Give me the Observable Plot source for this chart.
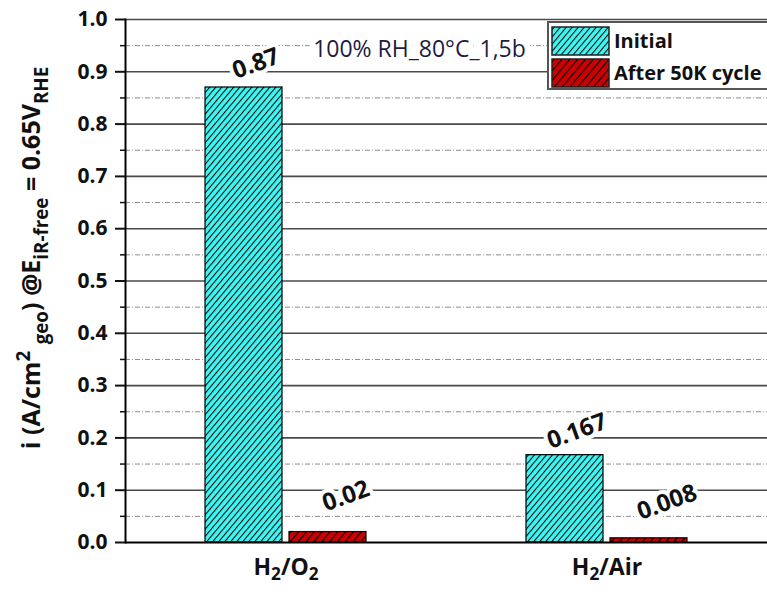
<!DOCTYPE html>
<html><head><meta charset="utf-8">
<script src="https://cdn.jsdelivr.net/npm/d3@7"></script>
<script src="https://cdn.jsdelivr.net/npm/@observablehq/plot@0.6"></script>
<style>body{margin:0;background:#fff} #chart{width:767px;height:592px;overflow:hidden}</style>
</head><body><div id="chart"></div>
<script>
const categories = ["H2/O2", "H2/Air"];
const seriesNames = ["Initial", "After 50K cycle"];
const initialValues = [0.87, 0.167];
const afterValues = [0.02, 0.008];
const majorTicks = [0, 0.1, 0.2, 0.3, 0.4, 0.5, 0.6, 0.7, 0.8, 0.9, 1.0];
const minorTicks = [0.05, 0.15, 0.25, 0.35, 0.45, 0.55, 0.65, 0.75, 0.85, 0.95];
const annotation = "100% RH_80°C_1,5b";
const yLabelParts = [["i (A/cm"], ["2", "super"], [" "], ["geo", "sub"], [") @E"], ["iR-free", "sub"], [" = 0.65V"], ["RHE", "sub"]];
const categoryLabelParts = {
  "H2/O2": [["H"], ["2", "sub"], ["/O"], ["2", "sub"]],
  "H2/Air": [["H"], ["2", "sub"], ["/Air"]]
};
const seriesColors = ["#3ff5f2", "#cc0000"];
const patternIds = ["hatch-initial", "hatch-after"];

const data = categories.flatMap((c, i) => [
  {category: c, series: seriesNames[0], value: initialValues[i]},
  {category: c, series: seriesNames[1], value: afterValues[i]}
]);
const bySeries = s => data.filter(d => d.series === s);
const fillFor = i => `url(#${patternIds[i]})`;

const plot = Plot.plot({
  width: 767, height: 592,
  marginLeft: 125, marginRight: 0, marginTop: 19, marginBottom: 50,
  style: {fontFamily: "'Open Sans', sans-serif", color: "#111", background: "#fff", overflow: "visible"},
  fx: {domain: categories, padding: 0, label: null},
  x: {domain: seriesNames, paddingInner: 0.08, paddingOuter: 0.93, axis: null},
  y: {domain: [0, 1], label: null},
  marks: [
    Plot.ruleY(minorTicks, {stroke: "#8c8c8c", strokeWidth: 1, strokeDasharray: "5,2,1,2"}),
    Plot.ruleY(majorTicks.filter(d => d > 0), {stroke: "#4a4a4a", strokeWidth: 1.6}),
    Plot.barY(bySeries(seriesNames[0]), {fx: "category", x: "series", y: "value", fill: fillFor(0), stroke: "#000", strokeWidth: 1.2}),
    Plot.barY(bySeries(seriesNames[1]), {fx: "category", x: "series", y: "value", fill: fillFor(1), stroke: "#000", strokeWidth: 1.2}),
    Plot.ruleY([0], {stroke: "#000", strokeWidth: 1.8}),
    Plot.frame({anchor: "left", facetAnchor: "left", stroke: "#000", strokeWidth: 2}),
    Plot.axisY(majorTicks, {tickSize: 10, tickPadding: 8, strokeWidth: 2, fontSize: 21, fontWeight: "bold", tickFormat: d3.format(".1f"), label: null}),
    Plot.axisY(minorTicks, {tickSize: 5, strokeWidth: 1.5, tickFormat: () => "", label: null}),
    Plot.axisFx({anchor: "bottom", tickSize: 0, tickPadding: 16, fontSize: 23, fontWeight: "bold", label: null}),
    Plot.text(bySeries(seriesNames[0]), {fx: "category", x: "series", y: "value", text: d => String(d.value), dx: 12, dy: -24, rotate: -20, fontSize: 24, fontWeight: "bold", fill: "#111", stroke: "white", strokeWidth: 8}),
    Plot.text(bySeries(seriesNames[1]), {fx: "category", x: "series", y: "value", text: d => String(d.value), dx: 18, dy: -36, rotate: -20, fontSize: 24, fontWeight: "bold", fill: "#111", stroke: "white", strokeWidth: 8}),
    Plot.text([annotation], {fx: () => categories[0], text: d => d, frameAnchor: "top-right", textAnchor: "middle", dx: -27, dy: 21, fontSize: 23, fill: "#1c1c44", stroke: "white", strokeWidth: 12})
  ]
});

document.getElementById("chart").appendChild(plot);

const svg = d3.select(plot);
const defs = svg.insert("defs", ":first-child");
function hatch(id, color, spacing, width) {
  const p = defs.append("pattern").attr("id", id).attr("patternUnits", "userSpaceOnUse")
    .attr("width", spacing).attr("height", spacing).attr("patternTransform", "rotate(40)");
  p.append("rect").attr("width", spacing).attr("height", spacing).attr("fill", color);
  p.append("line").attr("x1", 0.5).attr("y1", 0).attr("x2", 0.5).attr("y2", spacing)
    .attr("stroke", "#000").attr("stroke-width", width);
}
hatch(patternIds[0], seriesColors[0], 4.6, 1);
hatch(patternIds[1], seriesColors[1], 6, 1.2);

function rich(sel, parts, subShift) {
  sel.text(null);
  for (const [t, shift] of parts) {
    const ts = sel.append("tspan").text(t);
    if (shift) ts.attr("baseline-shift", shift === "sub" ? subShift : "0.55em").attr("font-size", "75%");
  }
}

svg.selectAll('g[aria-label="fx-axis tick label"] text').each(function() {
  const s = d3.select(this);
  const key = this.textContent;
  if (categoryLabelParts[key]) rich(s, categoryLabelParts[key], "-0.3em");
});

// y-axis title
const yl = svg.append("text")
  .attr("transform", "translate(40,258) rotate(-90)")
  .attr("text-anchor", "middle")
  .attr("font-size", 25).attr("font-weight", "bold").attr("fill", "#111");
rich(yl, yLabelParts, "-0.4em");

// legend
const lg = svg.append("g").attr("font-size", 20).attr("font-weight", "bold").attr("fill", "#111").attr("text-anchor", "start");
lg.append("rect").attr("x", 548).attr("y", 22).attr("width", 230).attr("height", 67)
  .attr("fill", "#fff").attr("stroke", "#555").attr("stroke-width", 2);
seriesNames.forEach((s, i) => {
  const y0 = 27 + i * 32;
  lg.append("rect").attr("x", 552).attr("y", y0).attr("width", 57).attr("height", 28)
    .attr("fill", fillFor(i)).attr("stroke", "#222").attr("stroke-width", 1.5);
  lg.append("text").attr("x", 614).attr("y", y0 + 14).attr("dy", "0.35em").attr("text-anchor", "start").text(s);
});
</script></body></html>
